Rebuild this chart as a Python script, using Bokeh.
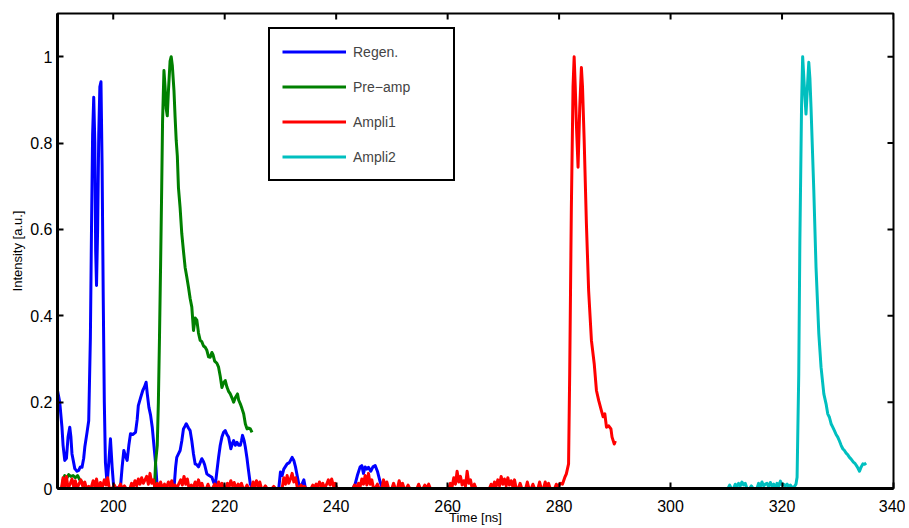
import math
from bokeh.plotting import figure
from bokeh.models import Legend, LegendItem, FixedTicker, Range1d
from bokeh.embed import file_html
from bokeh.resources import INLINE

# ---------------- data ----------------
regen_t = [190.0, 190.4, 190.8, 191.0, 191.3, 191.6, 191.9, 192.2, 192.4, 192.6, 192.9, 193.1, 193.5, 193.8,
           194.1, 194.4, 194.7, 194.9, 195.3, 195.6, 195.9, 196.1, 196.3, 196.5, 196.7, 196.85, 197.0, 197.2,
           197.4, 197.6, 197.8, 198.0, 198.2, 198.4, 198.6, 198.9, 199.2, 199.5, 199.8, 200.1, 201.3, 201.6,
           201.9, 202.2, 202.5, 202.8, 203.1, 203.5, 204.0, 204.3, 204.5, 204.9, 205.3, 205.6, 205.9, 206.1,
           206.4, 206.7, 207.0, 207.3, 207.6, 207.9, 210.9, 211.2, 211.4, 211.7, 212.0, 212.3, 212.6, 212.9,
           213.1, 213.5, 213.8, 214.1, 214.4, 214.7, 215.0, 215.3, 215.6, 215.9, 216.2, 216.4, 216.8, 217.2,
           217.7, 218.0, 218.3, 218.6, 218.9, 219.2, 219.5, 219.8, 220.1, 220.4, 220.7, 221.1, 221.4, 221.6,
           221.9, 222.2, 222.5, 222.8, 223.0, 223.2, 223.5, 223.7, 224.0, 224.2, 224.6, 225.0, 229.7, 230.0,
           230.3, 230.6, 231.2, 231.6, 232.1, 232.4, 232.7, 233.0, 233.3, 233.7, 234.2, 234.5, 243.0, 243.4,
           243.8, 244.3, 244.6, 244.9, 245.2, 245.5, 245.8, 246.2, 246.6, 247.0, 247.4, 247.9, 248.3, 250.0]
regen_v = [0.227, 0.2, 0.142, 0.1, 0.065, 0.07, 0.12, 0.142, 0.12, 0.08, 0.06, 0.046, 0.04, 0.042,
           0.05, 0.049, 0.07, 0.096, 0.13, 0.157, 0.35, 0.6, 0.82, 0.906, 0.8, 0.55, 0.47, 0.6,
           0.82, 0.93, 0.942, 0.75, 0.45, 0.2, 0.06, 0.01, 0.06, 0.115, 0.05, 0.0, 0.003, 0.05,
           0.088, 0.075, 0.065, 0.1, 0.127, 0.125, 0.13, 0.16, 0.192, 0.21, 0.227, 0.235, 0.246, 0.22,
           0.188, 0.17, 0.142, 0.1, 0.058, 0.0, 0.0, 0.05, 0.072, 0.08, 0.088, 0.11, 0.138, 0.145,
           0.15, 0.14, 0.134, 0.11, 0.08, 0.057, 0.055, 0.05, 0.06, 0.069, 0.062, 0.055, 0.034, 0.03,
           0.026, 0.015, 0.007, 0.04, 0.072, 0.1, 0.119, 0.13, 0.134, 0.125, 0.119, 0.092, 0.105, 0.111,
           0.1, 0.107, 0.1, 0.1, 0.11, 0.123, 0.11, 0.096, 0.07, 0.049, 0.01, 0.0, 0.0, 0.038,
           0.03, 0.045, 0.057, 0.06, 0.072, 0.065, 0.05, 0.03, 0.01, 0.005, 0.02, 0.0, 0.0, 0.01,
           0.03, 0.05, 0.053, 0.035, 0.05, 0.045, 0.049, 0.04, 0.05, 0.053, 0.04, 0.015, 0.0, 0.0]

preamp_t = [190.8, 191.0, 191.3, 191.7, 192.0, 192.4, 192.8, 193.2, 193.6, 194.0, 194.4, 194.8, 195.2, 207.4,
            207.6, 207.9, 208.1, 208.3, 208.5, 208.7, 208.85, 209.1, 209.3, 209.5, 209.7, 209.9, 210.2, 210.4,
            210.6, 210.9, 211.1, 211.3, 211.5, 211.7, 212.0, 212.3, 212.6, 212.9, 213.2, 213.5, 213.8, 214.1,
            214.4, 214.7, 215.0, 215.3, 215.6, 215.9, 216.2, 216.5, 216.8, 217.1, 217.4, 217.7, 217.9, 218.2,
            218.6, 218.9, 219.2, 219.5, 219.8, 220.1, 220.4, 220.7, 221.0, 221.3, 221.6, 221.9, 222.3, 222.5,
            222.8, 223.1, 223.4, 223.7, 224.0, 224.3, 224.6, 224.9]
preamp_v = [0.0, 0.02, 0.03, 0.025, 0.032, 0.028, 0.03, 0.025, 0.03, 0.02, 0.015, 0.005, 0.0, 0.0,
            0.06, 0.1, 0.2, 0.35, 0.52, 0.7, 0.85, 0.968, 0.93, 0.88, 0.863, 0.92, 0.99, 1.0,
            0.98, 0.921, 0.86, 0.806, 0.77, 0.697, 0.65, 0.59, 0.55, 0.512, 0.49, 0.466, 0.44, 0.42,
            0.366, 0.395, 0.39, 0.36, 0.343, 0.34, 0.33, 0.327, 0.32, 0.305, 0.304, 0.315, 0.31, 0.295,
            0.29, 0.281, 0.26, 0.234, 0.245, 0.25, 0.235, 0.225, 0.219, 0.21, 0.2, 0.21, 0.219, 0.205,
            0.196, 0.185, 0.173, 0.15, 0.138, 0.14, 0.138, 0.13]

ampli1_t = [190.7, 191.0, 191.3, 191.6, 191.9, 192.3, 192.6, 192.9, 193.2, 193.5, 193.9, 194.2, 194.5, 194.9,
            195.2, 195.6, 196.0, 196.4, 196.7, 197.0, 197.3, 197.7, 198.0, 198.4, 198.7, 199.0, 199.3, 199.8,
            200.2, 200.5, 200.9, 201.3, 201.6, 202.0, 202.3, 203.0, 203.3, 203.6, 203.9, 204.2, 204.5, 204.8,
            205.1, 205.4, 205.7, 206.0, 206.3, 206.6, 206.9, 207.2, 207.5, 207.9, 208.2, 208.5, 208.8, 209.2,
            209.5, 209.9, 210.2, 210.5, 210.8, 211.1, 211.4, 211.8, 212.1, 212.4, 212.7, 213.0, 213.3, 213.6,
            214.0, 214.3, 214.7, 215.0, 215.3, 215.6, 215.9, 216.2, 216.7, 217.0, 217.3, 217.8, 218.2, 218.5,
            218.9, 219.2, 219.5, 219.8, 220.2, 220.5, 220.8, 221.1, 221.4, 221.7, 222.0, 222.4, 222.7, 223.0,
            223.3, 223.7, 224.0, 224.3, 224.8, 225.1, 225.4, 225.7, 226.0, 226.3, 226.6, 227.0, 227.3, 227.6,
            228.5, 228.8, 229.1, 230.3, 230.6, 230.9, 231.2, 231.5, 231.8, 232.1, 232.4, 232.7, 233.0, 233.3,
            233.7, 234.0, 234.3, 234.6, 235.5, 235.8, 236.1, 236.4, 236.7, 237.0, 237.3, 237.6, 237.9, 238.3,
            238.6, 238.9, 239.2, 239.5, 239.8, 240.1, 243.0, 243.3, 243.6, 244.0, 244.3, 244.6, 244.9, 245.2,
            245.5, 245.8, 246.1, 246.4, 246.7, 247.0, 247.4, 247.7, 248.2, 248.5, 248.8, 249.1, 249.4, 250.0,
            250.3, 250.6, 251.0, 251.3, 251.6, 251.9, 252.2, 252.6, 252.9, 253.2, 254.5, 254.8, 255.1, 255.6,
            255.9, 256.2, 256.6, 256.9, 260.2, 260.5, 260.8, 261.1, 261.4, 261.7, 262.0, 262.3, 262.6, 262.9,
            263.2, 263.5, 263.8, 264.1, 264.4, 264.8, 265.1, 267.5, 267.8, 268.1, 268.4, 268.7, 269.0, 269.3,
            269.6, 269.9, 270.2, 270.5, 270.8, 271.1, 271.4, 271.7, 272.0, 272.3, 272.7, 273.0, 273.3, 274.0,
            274.3, 274.6, 275.0, 275.3, 275.6, 276.2, 276.5, 276.8, 277.2, 277.5, 277.8, 278.1, 278.4, 279.2,
            279.5, 279.8, 280.2, 280.6, 281.0, 281.3, 281.7, 281.9, 282.2, 282.5, 282.7, 282.9, 283.1, 283.4,
            283.7, 284.0, 284.2, 284.5, 284.9, 285.3, 285.8, 286.3, 286.7, 287.1, 287.6, 287.9, 288.2, 288.5,
            288.9, 289.3, 289.5, 289.9, 290.1]
ampli1_v = [0.0, 0.025, 0.005, 0.028, 0.0, 0.012, 0.022, 0.004, 0.018, 0.0, 0.012, 0.02, 0.006, 0.015,
            0.0, 0.005, 0.0, 0.018, 0.004, 0.022, 0.0, 0.014, 0.0, 0.02, 0.008, 0.025, 0.0, 0.0,
            0.008, 0.0, 0.0, 0.01, 0.0, 0.006, 0.0, 0.0, 0.012, 0.004, 0.018, 0.006, 0.022, 0.01,
            0.025, 0.012, 0.02, 0.028, 0.01, 0.035, 0.012, 0.02, 0.0, 0.012, 0.004, 0.015, 0.0, 0.01,
            0.0, 0.015, 0.005, 0.018, 0.0, 0.008, 0.0, 0.012, 0.02, 0.008, 0.028, 0.01, 0.022, 0.0,
            0.008, 0.0, 0.015, 0.004, 0.02, 0.005, 0.012, 0.0, 0.0, 0.01, 0.0, 0.0, 0.01, 0.0,
            0.015, 0.004, 0.012, 0.0, 0.0, 0.012, 0.004, 0.018, 0.006, 0.014, 0.0, 0.01, 0.004, 0.012,
            0.0, 0.0, 0.008, 0.0, 0.0, 0.015, 0.005, 0.018, 0.004, 0.015, 0.0, 0.0, 0.006, 0.0,
            0.0, 0.005, 0.0, 0.0, 0.025, 0.01, 0.03, 0.012, 0.022, 0.035, 0.015, 0.025, 0.004, 0.0,
            0.008, 0.0, 0.005, 0.0, 0.0, 0.008, 0.003, 0.01, 0.004, 0.015, 0.005, 0.012, 0.0, 0.01,
            0.02, 0.008, 0.022, 0.006, 0.012, 0.0, 0.0, 0.008, 0.0, 0.012, 0.004, 0.022, 0.01, 0.03,
            0.008, 0.035, 0.01, 0.02, 0.0, 0.0, 0.01, 0.0, 0.0, 0.02, 0.005, 0.015, 0.0, 0.0,
            0.012, 0.0, 0.0, 0.018, 0.005, 0.012, 0.0, 0.0, 0.008, 0.0, 0.0, 0.01, 0.0, 0.0,
            0.008, 0.0, 0.01, 0.0, 0.0, 0.012, 0.004, 0.025, 0.01, 0.04, 0.015, 0.028, 0.008, 0.018,
            0.005, 0.04, 0.012, 0.02, 0.0, 0.01, 0.0, 0.0, 0.01, 0.0, 0.015, 0.005, 0.02, 0.006,
            0.028, 0.01, 0.022, 0.006, 0.025, 0.008, 0.018, 0.004, 0.02, 0.0, 0.0, 0.012, 0.0, 0.0,
            0.015, 0.0, 0.0, 0.01, 0.0, 0.0, 0.015, 0.0, 0.0, 0.015, 0.003, 0.012, 0.0, 0.0,
            0.01, 0.003, 0.012, 0.01, 0.025, 0.034, 0.057, 0.265, 0.651, 0.93, 1.0, 0.93, 0.844, 0.744,
            0.88, 0.975, 0.93, 0.806, 0.613, 0.458, 0.343, 0.289, 0.227, 0.204, 0.18, 0.166, 0.173, 0.142,
            0.145, 0.138, 0.119, 0.103, 0.11]

ampli2_t = [310.3, 310.6, 310.9, 311.3, 311.6, 311.9, 312.2, 312.5, 312.8, 313.1, 313.4, 313.7, 314.2, 314.5,
            314.8, 315.5, 315.8, 316.1, 316.4, 316.7, 317.0, 317.3, 317.6, 317.9, 318.2, 318.5, 318.8, 319.1,
            319.4, 319.7, 320.0, 320.3, 320.6, 320.9, 321.2, 321.5, 321.8, 322.2, 322.5, 322.7, 323.0, 323.2,
            323.5, 323.7, 324.0, 324.3, 324.6, 324.8, 325.0, 325.2, 325.7, 326.1, 326.6, 327.0, 327.5, 327.9,
            328.2, 328.5, 328.8, 329.1, 329.4, 329.7, 330.0, 330.3, 330.6, 330.9, 331.2, 331.5, 331.8, 332.1,
            332.4, 332.8, 333.1, 333.5, 333.9, 334.2, 334.5, 334.8, 335.1]
ampli2_v = [0.0, 0.008, 0.0, 0.0, 0.01, 0.004, 0.012, 0.006, 0.015, 0.008, 0.012, 0.0, 0.0, 0.006,
            0.0, 0.0, 0.012, 0.004, 0.015, 0.006, 0.01, 0.012, 0.004, 0.014, 0.006, 0.01, 0.0, 0.012,
            0.006, 0.017, 0.008, 0.01, 0.006, 0.01, 0.004, 0.008, 0.002, 0.004, 0.01, 0.026, 0.265, 0.574,
            0.883, 1.0, 0.93, 0.867, 0.94, 0.987, 0.95, 0.883, 0.69, 0.512, 0.358, 0.281, 0.219, 0.196,
            0.173, 0.165, 0.15, 0.142, 0.134, 0.125, 0.119, 0.11, 0.1, 0.092, 0.088, 0.082, 0.078, 0.072,
            0.068, 0.061, 0.058, 0.05, 0.04, 0.05, 0.057, 0.056, 0.059]

series_names = ["Regen.", "Pre\u2212amp", "Ampli1", "Ampli2"]
series_colors = ["#0000ff", "#008000", "#ff0000", "#00bfbf"]

x_min, x_max = 190, 340
y_min, y_max = 0, 1.1
x_ticks = [200, 220, 240, 260, 280, 300, 320, 340]
y_ticks = [0, 0.2, 0.4, 0.6, 0.8, 1.0]
y_tick_labels = ["0", "0.2", "0.4", "0.6", "0.8", "1"]
x_label = "Time [ns]"
y_label = "Intensity [a.u.]"

# ---------------- figure ----------------
FONT = "Liberation Sans"
p = figure(width=905, height=528, output_backend="svg", toolbar_location=None,
           x_range=Range1d(x_min, x_max), y_range=Range1d(y_min, y_max),
           min_border_left=57, min_border_right=12, min_border_top=13, min_border_bottom=40,
           x_axis_label=x_label, y_axis_label=y_label)
p.grid.visible = False
p.outline_line_color = "black"
p.outline_line_width = 2
p.outline_line_alpha = 1.0
p.background_fill_color = "white"
p.border_fill_color = "white"

for ax in p.xaxis:
    ax.ticker = FixedTicker(ticks=x_ticks)
for ax in p.yaxis:
    ax.ticker = FixedTicker(ticks=y_ticks)
    ax.major_label_overrides = {t: l for t, l in zip(y_ticks, y_tick_labels)}

for ax in list(p.xaxis) + list(p.yaxis):
    ax.axis_line_width = 3
    ax.major_tick_in = 6
    ax.major_tick_out = 0
    ax.major_tick_line_width = 2
    ax.minor_tick_line_color = None
    ax.major_label_text_font = FONT
    ax.major_label_text_font_size = "16px"
    ax.major_label_text_color = "black"
    ax.axis_label_text_font = FONT
    ax.axis_label_text_font_size = "13px"
    ax.axis_label_text_font_style = "normal"
    ax.axis_label_text_color = "black"
p.xaxis.major_label_standoff = 11
p.xaxis.axis_label_standoff = -5
p.yaxis.major_label_standoff = 5
p.yaxis.axis_label_standoff = 2

# mirrored inward ticks on the top and right edges (box on)
p.ray(x=x_ticks, y=[y_max] * len(x_ticks), length=6, length_units="screen",
      angle=-math.pi / 2, line_color="black", line_width=2)
p.ray(x=[x_max] * len(y_ticks), y=y_ticks, length=6, length_units="screen",
      angle=math.pi, line_color="black", line_width=2)

renderers = []
for t, v, c in [(regen_t, regen_v, series_colors[0]), (preamp_t, preamp_v, series_colors[1]),
                (ampli1_t, ampli1_v, series_colors[2]), (ampli2_t, ampli2_v, series_colors[3])]:
    renderers.append(p.line(t, v, line_color=c, line_width=3, line_join="round"))

legend = Legend(items=[LegendItem(label=n, renderers=[r]) for n, r in zip(series_names, renderers)],
                location=(211, 307), glyph_width=64, glyph_height=21, label_standoff=7,
                spacing=14, padding=12, margin=0, label_width=88,
                label_text_font=FONT, label_text_font_size="14px",
                border_line_color="black", border_line_width=2, border_line_alpha=1.0,
                background_fill_alpha=1.0)
p.add_layout(legend, "center")

open("out.html", "w").write(file_html(p, INLINE))
